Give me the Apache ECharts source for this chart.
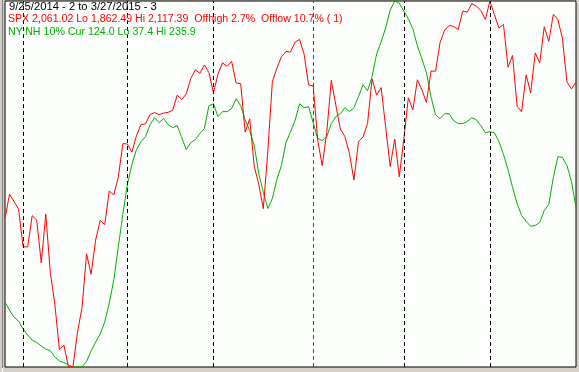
<!DOCTYPE html>
<html>
<head>
<meta charset="utf-8">
<script src="https://cdn.jsdelivr.net/npm/echarts@6/dist/echarts.min.js"></script>
<style>
html,body{margin:0;padding:0;background:#d4d0c8;}
#c{width:579px;height:372px;}
</style>
</head>
<body>
<div id="c"></div>
<script>
// Trading days 9/25/2014 .. 3/27/2015
const dates = [
 '9/25','9/26','9/29','9/30',
 '10/1','10/2','10/3','10/6','10/7','10/8','10/9','10/10','10/13','10/14','10/15','10/16','10/17','10/20','10/21','10/22','10/23','10/24','10/27','10/28','10/29','10/30','10/31',
 '11/3','11/4','11/5','11/6','11/7','11/10','11/11','11/12','11/13','11/14','11/17','11/18','11/19','11/20','11/21','11/24','11/25','11/26','11/28',
 '12/1','12/2','12/3','12/4','12/5','12/8','12/9','12/10','12/11','12/12','12/15','12/16','12/17','12/18','12/19','12/22','12/23','12/24','12/26','12/29','12/30','12/31',
 '1/2','1/5','1/6','1/7','1/8','1/9','1/12','1/13','1/14','1/15','1/16','1/20','1/21','1/22','1/23','1/26','1/27','1/28','1/29','1/30',
 '2/2','2/3','2/4','2/5','2/6','2/9','2/10','2/11','2/12','2/13','2/17','2/18','2/19','2/20','2/23','2/24','2/25','2/26','2/27',
 '3/2','3/3','3/4','3/5','3/6','3/9','3/10','3/11','3/12','3/13','3/16','3/17','3/18','3/19','3/20','3/23','3/24','3/25','3/26','3/27'
];

const spx = [
 1965.99,1982.85,1977.80,1972.29,
 1946.16,1946.17,1967.90,1964.82,1935.10,1968.89,1928.21,1906.13,1874.74,1877.70,1862.49,1862.76,1886.76,1904.01,1941.28,1927.11,1950.82,1964.58,1961.63,1985.05,1982.30,1994.65,2018.05,
 2017.81,2012.10,2023.57,2031.21,2031.92,2038.26,2039.68,2038.25,2039.33,2039.82,2041.32,2051.80,2048.72,2052.75,2063.50,2069.41,2067.03,2072.83,2067.56,
 2053.44,2066.55,2074.33,2071.92,2075.37,2060.31,2059.82,2026.14,2035.33,2002.33,1989.63,1972.74,2012.89,2061.23,2070.65,2078.54,2082.17,2081.88,2088.77,2090.57,2080.35,2058.90,
 2058.20,2020.58,2002.61,2025.90,2062.14,2044.81,2028.26,2023.03,2011.27,1992.67,2019.42,2022.55,2032.12,2063.15,2051.82,2057.09,2029.55,2002.16,2021.25,1994.99,
 2020.85,2050.03,2041.51,2062.52,2055.47,2046.74,2068.59,2068.53,2088.48,2096.99,2100.34,2099.68,2097.45,2110.30,2109.66,2115.48,2113.86,2110.74,2104.50,
 2117.39,2107.78,2098.53,2101.04,2071.26,2079.43,2044.16,2040.24,2065.95,2053.40,2081.19,2074.28,2099.50,2089.27,2108.10,2104.42,2091.50,2061.05,2056.15,2061.02
];

const nynh = [
 72.6,68.2,64.4,62.3,
 58.0,54.7,52.0,50.7,48.8,47.1,46.3,42.8,40.6,39.8,38.5,37.4,37.4,37.5,40.4,46.1,50.9,55.3,61.7,72.0,84.5,102.3,120.2,
 136.4,147.2,155.3,159.6,162.3,168.8,172.6,169.9,172.1,168.8,167.2,168.3,161.8,155.3,159.1,160.7,164.0,166.7,179.1,
 180.2,173.2,175.9,175.9,177.5,182.9,179.1,171.5,165.6,157.5,142.3,132.1,123.4,128.8,139.1,146.7,159.1,165.0,171.0,180.2,178.0,178.6,
 169.9,161.3,160.2,162.3,169.4,173.2,174.8,178.0,175.9,178.0,184.0,190.5,187.2,194.8,207.2,213.7,221.3,231.0,235.9,234.8,
 230.5,226.2,220.8,211.6,204.5,197.0,184.0,174.2,172.1,174.8,174.8,171.0,169.4,169.4,170.5,172.6,171.5,168.3,164.5,
 165.0,164.5,159.6,152.6,144.5,134.8,126.1,119.6,116.4,113.7,114.2,115.8,122.3,125.6,140.2,151.5,151.0,146.7,138.0,124.0
];

const monthStarts = ['10/1','11/3','12/1','2/2','3/2'];
const yearStart = ['1/2'];

const titleText = '9/25/2014 - 2 to 3/27/2015 - 3';
const spxText = 'SPX 2,061.02 Lo 1,862.49 Hi 2,117.39  Offhigh 2.7%  Offlow 10.7% ( 1)';
const nynhText = 'NY:NH 10% Cur 124.0 Lo 37.4 Hi 235.9';

const spxRange = [1862.49, 2117.39];
const nynhRange = [37.4, 235.9];

// fit font size so each header line spans the same width as in the original
function fitFont(text, targetW) {
  const ctx = document.createElement('canvas').getContext('2d');
  ctx.font = '11px Arial';
  const w = ctx.measureText(text).width;
  const s = Math.max(10, Math.min(12, 11 * targetW / w));
  return s.toFixed(2) + 'px Arial';
}
const f1 = fitFont(titleText, 148);
const f2 = fitFont(spxText, 335);
const f3 = fitFont(nynhText, 188);

const chart = echarts.init(document.getElementById('c'), null, {renderer:'canvas'});
const RED = '#ff0000', GREEN = '#00b000';
const dashMark = (list, color) => ({
  silent:true, symbol:'none', label:{show:false},
  lineStyle:{type:[4,3], width:1, color:color},
  data: list.map(d => ({xAxis: d}))
});

chart.setOption({
  animation:false,
  backgroundColor:'#d4d0c8',
  grid:{left:5, right:3, top:1, bottom:5, show:true, backgroundColor:'#fcfffc', borderColor:'#000', borderWidth:1},
  xAxis:{type:'category', data:dates, boundaryGap:false, show:false},
  yAxis:[
    {type:'value', min:spxRange[0], max:spxRange[1], show:false},
    {type:'value', min:nynhRange[0], max:nynhRange[1], show:false}
  ],
  series:[
    {type:'line', data:nynh, yAxisIndex:1, symbol:'none', lineStyle:{color:GREEN, width:1}, itemStyle:{color:GREEN},
     markLine: dashMark(monthStarts, '#000')},
    {type:'line', data:spx, yAxisIndex:0, symbol:'none', lineStyle:{color:RED, width:1}, itemStyle:{color:RED},
     markLine: dashMark(yearStart, RED)}
  ],
  graphic:[
    {type:'rect', left:0, top:0, shape:{width:579, height:372}, style:{fill:'none', stroke:'#ffffff', lineWidth:1}, silent:true, z:-1},
    {type:'line', shape:{x1:2.5, y1:0, x2:2.5, y2:368}, style:{stroke:'#808080', lineWidth:1}, silent:true},
    {type:'text', left:9, top:1, style:{text:titleText, fill:'#000', font:f1}, silent:true, z:100},
    {type:'text', left:8, top:14, style:{text:spxText, fill:RED, font:f2}, silent:true, z:100},
    {type:'text', left:8, top:27, style:{text:nynhText, fill:GREEN, font:f3}, silent:true, z:100}
  ]
});
</script>
</body>
</html>
